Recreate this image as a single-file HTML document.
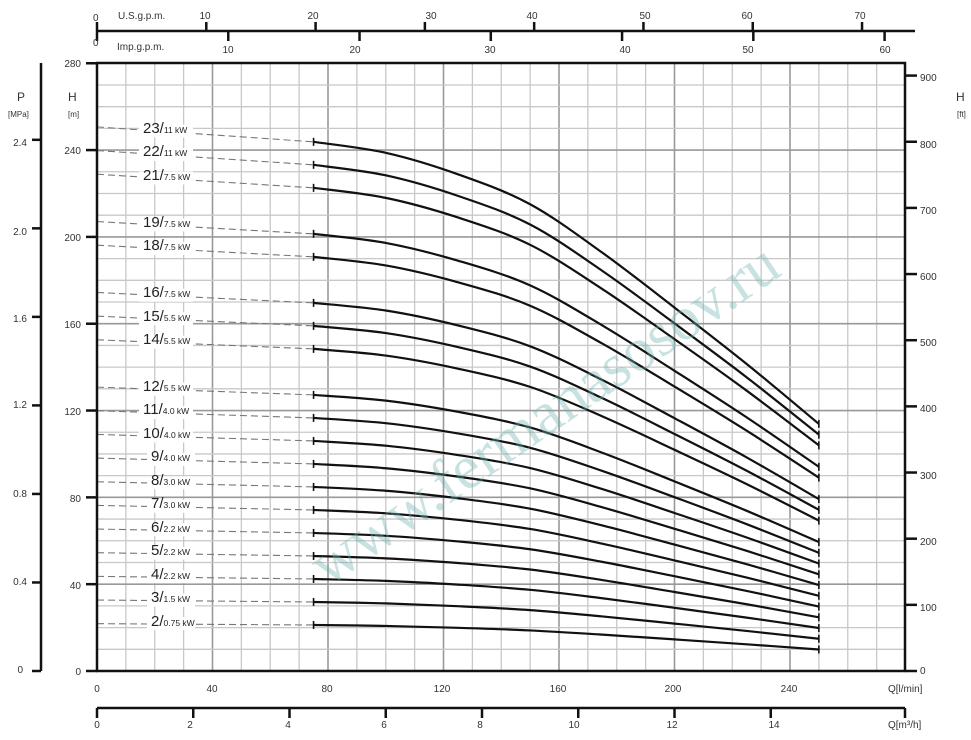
<!DOCTYPE html>
<html><head><meta charset="utf-8"><style>
body{margin:0;background:#fff}
svg{display:block;font-family:"Liberation Sans",sans-serif}
.t{font-size:10px;fill:#333}
</style></head><body>
<div style="position:relative;width:971px;height:740px">
<svg id="s" width="971" height="740" viewBox="0 0 971 740" xmlns="http://www.w3.org/2000/svg" style="position:absolute;left:0;top:0">
<g id="grid"></g>
<g id="dash"></g>
<g id="curves"></g>
<g stroke="#111" stroke-width="2.5" fill="none">
<rect x="97" y="63" width="808" height="608"/>
<line x1="41" y1="63" x2="41" y2="671"/>
<line x1="97" y1="31" x2="915" y2="31"/>
<line x1="97" y1="708" x2="905" y2="708"/>
</g>
<g id="ticks" stroke="#111" stroke-width="2.5"></g>
<g class="t">
<text x="93" y="21">0</text><text x="118" y="19">U.S.g.p.m.</text>
<text x="93" y="46">0</text><text x="117" y="50">Imp.g.p.m.</text>
<g text-anchor="middle">
<text x="205" y="19">10</text><text x="313" y="19">20</text><text x="431" y="19">30</text><text x="532" y="19">40</text><text x="645" y="19">50</text><text x="747" y="19">60</text><text x="860" y="19">70</text>
<text x="228" y="53">10</text><text x="355" y="53">20</text><text x="490" y="53">30</text><text x="625" y="53">40</text><text x="748" y="53">50</text><text x="885" y="53">60</text>
<text x="97" y="692">0</text><text x="212" y="692">40</text><text x="327" y="692">80</text><text x="442" y="692">120</text><text x="558" y="692">160</text><text x="673" y="692">200</text><text x="789" y="692">240</text>
<text x="97" y="728">0</text><text x="190" y="728">2</text><text x="288" y="728">4</text><text x="384" y="728">6</text><text x="480" y="728">8</text><text x="574" y="728">10</text><text x="672" y="728">12</text><text x="774" y="728">14</text>
</g>
<text x="888" y="692">Q[l/min]</text><text x="888" y="728">Q[m³/h]</text>
<g text-anchor="end">
<text x="81" y="67">280</text><text x="81" y="154">240</text><text x="81" y="241">200</text><text x="81" y="328">160</text><text x="81" y="415">120</text><text x="81" y="502">80</text><text x="81" y="589">40</text><text x="81" y="675">0</text>
<text x="27" y="146">2.4</text><text x="27" y="235">2.0</text><text x="27" y="322">1.6</text><text x="27" y="408">1.2</text><text x="27" y="497">0.8</text><text x="27" y="585">0.4</text><text x="23" y="673">0</text>
</g>
<text x="920" y="81">900</text><text x="920" y="148">800</text><text x="920" y="214">700</text><text x="920" y="280">600</text><text x="920" y="346">500</text><text x="920" y="412">400</text><text x="920" y="479">300</text><text x="920" y="545">200</text><text x="920" y="611">100</text><text x="920" y="674">0</text>
<text x="17" y="101" font-size="12">P</text><text x="8" y="117" font-size="8">[MPa]</text>
<text x="68" y="101" font-size="12">H</text><text x="68" y="117" font-size="8">[m]</text>
<text x="956" y="101" font-size="12">H</text><text x="957" y="117" font-size="8">[ft]</text>
</g>
<g id="labels"></g>
<text x="545" y="434" text-anchor="middle" transform="rotate(-34.5 545 415)" font-family="'Liberation Serif',serif" font-size="62" fill="rgba(110,175,175,0.38)">www.fermanasosov.ru</text>
<g font-size="15" fill="#222">
<text x="143" y="133">23/<tspan font-size="8.5">11 kW</tspan></text>
<text x="143" y="156">22/<tspan font-size="8.5">11 kW</tspan></text>
<text x="143" y="180">21/<tspan font-size="8.5">7.5 kW</tspan></text>
<text x="143" y="227">19/<tspan font-size="8.5">7.5 kW</tspan></text>
<text x="143" y="250">18/<tspan font-size="8.5">7.5 kW</tspan></text>
<text x="143" y="297">16/<tspan font-size="8.5">7.5 kW</tspan></text>
<text x="143" y="321">15/<tspan font-size="8.5">5.5 kW</tspan></text>
<text x="143" y="344">14/<tspan font-size="8.5">5.5 kW</tspan></text>
<text x="143" y="391">12/<tspan font-size="8.5">5.5 kW</tspan></text>
<text x="143" y="414">11/<tspan font-size="8.5">4.0 kW</tspan></text>
<text x="143" y="438">10/<tspan font-size="8.5">4.0 kW</tspan></text>
<text x="151" y="461">9/<tspan font-size="8.5">4.0 kW</tspan></text>
<text x="151" y="485">8/<tspan font-size="8.5">3.0 kW</tspan></text>
<text x="151" y="508">7/<tspan font-size="8.5">3.0 kW</tspan></text>
<text x="151" y="532">6/<tspan font-size="8.5">2.2 kW</tspan></text>
<text x="151" y="555">5/<tspan font-size="8.5">2.2 kW</tspan></text>
<text x="151" y="579">4/<tspan font-size="8.5">2.2 kW</tspan></text>
<text x="151" y="602">3/<tspan font-size="8.5">1.5 kW</tspan></text>
<text x="151" y="626">2/<tspan font-size="8.5">0.75 kW</tspan></text>
</g>
</svg>
</div>
<script>
var NS="http://www.w3.org/2000/svg";
function el(p,t,a){var e=document.createElementNS(NS,t);for(var k in a)e.setAttribute(k,a[k]);p.appendChild(e);return e;}
var X=function(q){return 97+q*2.8875},Y=function(h){return 671-h*2.1705};
var g=document.getElementById("grid");
for(var q=10;q<280;q+=10){el(g,"line",{x1:X(q),y1:63,x2:X(q),y2:671,stroke:q%40?"#c8c8c8":"#999","stroke-width":q%40?1.3:1.6});}
for(var h=10;h<280;h+=10){el(g,"line",{x1:97,y1:Y(h),x2:905,y2:Y(h),stroke:h%40?"#c8c8c8":"#999","stroke-width":h%40?1.3:1.6});}
var tk=document.getElementById("ticks");
function L(a,b,c,d){el(tk,"line",{x1:a,y1:b,x2:c,y2:d});}
for(var h=0;h<=280;h+=40)L(86,Y(h),97,Y(h));
for(var p=0;p<=2.4001;p+=0.4)L(32,Y(p*101.97),41,Y(p*101.97));
for(var f=0;f<=900;f+=100)L(905,Y(f*0.3048),917,Y(f*0.3048));
for(var u=10;u<=70;u+=10)L(97+u*3.785*2.8875,22,97+u*3.785*2.8875,31);
for(var u=10;u<=60;u+=10)L(97+u*4.546*2.8875,31,97+u*4.546*2.8875,41);
for(var m=2;m<=14;m+=2)L(X(m*16.667),708,X(m*16.667),718);
L(97,22,97,41);L(97,708,97,718);L(905,708,905,718);
var Qs=[75,100,125,150,175,200,225,250],Hs=[10.6,10.38,9.95,9.35,8.38,7.28,6.15,4.95];
var st=[23,22,21,19,18,16,15,14,12,11,10,9,8,7,6,5,4,3,2];
var cv=document.getElementById("curves"),ds=document.getElementById("dash");
st.forEach(function(n){
 var pts=[];for(var i=0;i<Qs.length;i++)pts.push([X(Qs[i]),Y(Hs[i]*n)]);
 var d="M"+pts[0][0]+","+pts[0][1];
 for(var i=0;i<pts.length-1;i++){var p0=pts[Math.max(i-1,0)],p1=pts[i],p2=pts[i+1],p3=pts[Math.min(i+2,pts.length-1)];
  d+=" C"+(p1[0]+(p2[0]-p0[0])/6)+","+(p1[1]+(p2[1]-p0[1])/6)+" "+(p2[0]-(p3[0]-p1[0])/6)+","+(p2[1]-(p3[1]-p1[1])/6)+" "+p2[0]+","+p2[1];}
 el(cv,"path",{d:d,fill:"none",stroke:"#111","stroke-width":2.2});
 var ys=pts[0][1],ye=pts[7][1];
 el(cv,"line",{x1:pts[0][0],y1:ys-4,x2:pts[0][0],y2:ys+4,stroke:"#111","stroke-width":1.6});
 el(cv,"line",{x1:pts[7][0],y1:ye-4,x2:pts[7][0],y2:ye+4,stroke:"#111","stroke-width":1.6});
 var y0=ys-0.65*n;
 el(ds,"line",{x1:97,y1:y0,x2:pts[0][0],y2:ys,stroke:"#777","stroke-width":1.1,"stroke-dasharray":"7,4"});
 var yl=ys-0.445*n;
 el(ds,"rect",{x:n>9?139:147,y:yl-7,width:n>9?54:48,height:13,fill:"#fff"});
});
</script>
</body></html>
